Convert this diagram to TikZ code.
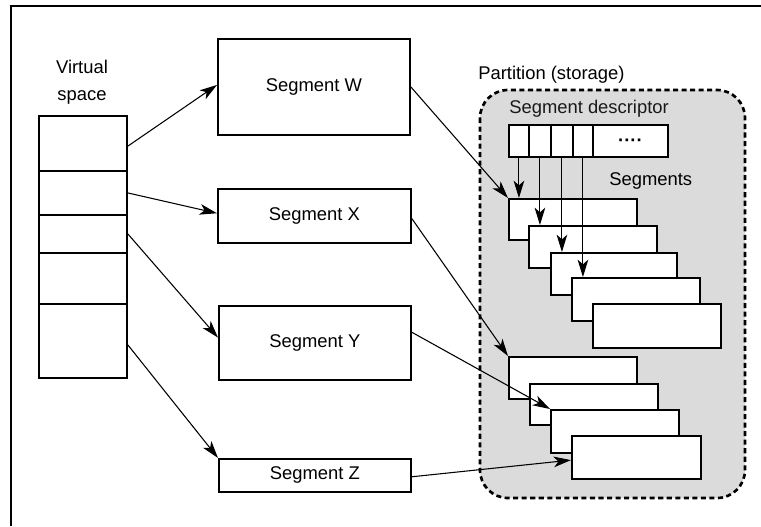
\documentclass[tikz,border=0pt]{standalone}
\usepackage{fontspec}
\setmainfont{Liberation Sans}
\usetikzlibrary{arrows.meta}
\begin{document}
\begin{tikzpicture}[x=0.75pt,y=-0.75pt,
  font=\fontsize{13.8}{16}\selectfont,
  box/.style={draw, line width=1.4pt, fill=white, inner sep=0pt, anchor=north west},
  cell/.style={box, minimum width={88*0.75pt}},
  seg/.style={box, minimum width={128*0.75pt}, minimum height={42*0.75pt}},
  dcell/.style={box, minimum height={32*0.75pt}},
  arr/.style={line width=0.8pt, -{Stealth[length=13pt, width=8pt, inset=3.5pt]}},
  lbl/.style={inner sep=0pt, anchor=base west}
]
\useasboundingbox (0,0) rectangle (761,526);
% frame (cropped scan)
\coordinate (fa) at (11,526);
\coordinate (fb) at (11,6);
\coordinate (fc) at (761,6);
\draw[line width=0.8pt] (fa) -- (fb) -- (fc);

% virtual space
\node[inner sep=0pt, align=center, font=\fontsize{13.8}{20}\selectfont] (vlabel) at (82,82) {Virtual\\space};
\node[cell, minimum height={55*0.75pt}] (v1) at (38,115) {};
\node[cell, minimum height={44*0.75pt}] (v2) at (38,170) {};
\node[cell, minimum height={38*0.75pt}] (v3) at (38,214) {};
\node[cell, minimum height={51*0.75pt}] (v4) at (38,252) {};
\node[cell, minimum height={74*0.75pt}] (v5) at (38,303) {};

% segments
\node[box, minimum width={192*0.75pt}, minimum height={96*0.75pt}] (w) at (217,38) {};
\node (wt) at (w.center) {Segment W};
\node[box, minimum width={193*0.75pt}, minimum height={54*0.75pt}] (x) at (217,188) {};
\node (xt) at (x.center) {Segment X};
\node[box, minimum width={192*0.75pt}, minimum height={74*0.75pt}] (y) at (218,305) {};
\node (yt) at (y.center) {Segment Y};
\node[box, minimum width={192*0.75pt}, minimum height={33*0.75pt}] (z) at (218,458) {};
\node (zt) at (z.center) {Segment Z};

% partition
\node[lbl] (plabel) at (478,79) {Partition (storage)};
\path[fill=black!14, draw, line width=2pt, dash pattern=on 3.8pt off 2.6pt, rounded corners=21pt]
  (480,90) rectangle (745,498);
\node[lbl, text=black!90] (dlabel) at (509,113) {Segment descriptor};
\node[lbl] (slabel) at (609,185) {Segments};

% descriptor
\node[dcell, minimum width={20*0.75pt}] (d1) at (508,124) {};
\node[dcell, minimum width={22*0.75pt}] (d2) at (528,124) {};
\node[dcell, minimum width={22*0.75pt}] (d3) at (550,124) {};
\node[dcell, minimum width={20*0.75pt}] (d4) at (572,124) {};
\node[dcell, minimum width={75*0.75pt}] (d5) at (592,124) {};
\node[inner sep=0pt, font=\fontsize{13.8}{16}\selectfont\bfseries] (dots) at ([yshift=-1pt]d5.center) {····};

% segment stacks
\node[seg, minimum height={41*0.75pt}] (t1) at (508,198) {};
\node[seg] (t2) at (528,225) {};
\node[seg, minimum width={126*0.75pt}] (t3) at (550,252) {};
\node[seg, minimum height={43*0.75pt}] (t4) at (571,277) {};
\node[seg, minimum height={44*0.75pt}] (t5) at (592,303) {};

\node[seg] (b1) at (508,356) {};
\node[seg, minimum height={41*0.75pt}] (b2) at (529,383) {};
\node[seg, minimum height={43*0.75pt}] (b3) at (550,409) {};
\node[seg, minimum width={129*0.75pt}, minimum height={43*0.75pt}] (b4) at (571,435) {};

% connectors
\draw[arr] ([yshift=-2pt]v1.east) -- ([yshift=1.5pt]w.west);
\draw[arr] (v2.east) -- ([yshift=2pt]x.west);
\draw[arr] (v3.east) -- ([yshift=4pt]y.west);
\draw[arr] ([yshift=-3pt]v5.east) -- (z.north west);

\draw[arr] (w.east) -- (t1.north west);
\draw[arr] ([yshift=-2pt]x.east) -- (b1.north west);
\draw[arr] ([yshift=8pt]y.east) -- (b3.north west);
\draw[arr] ([yshift=-1pt]z.east) -- ([yshift=-2pt]b4.west);

\draw[arr] (d1.south) -- (d1.south |- t1.north);
\draw[arr] (d2.south) -- (d2.south |- t2.north);
\draw[arr] (d3.south) -- (d3.south |- t3.north);
\draw[arr] (d4.south) -- (d4.south |- t4.north);
\end{tikzpicture}
\end{document}
